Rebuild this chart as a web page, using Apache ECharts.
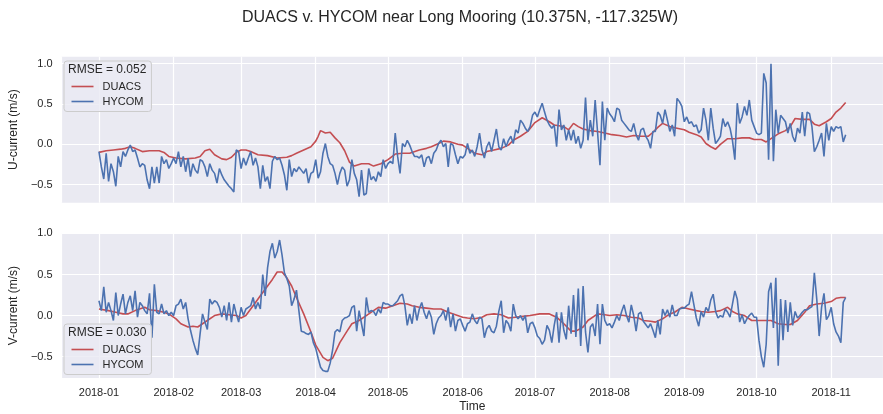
<!DOCTYPE html>
<html>
<head>
<meta charset="utf-8">
<script src="https://cdn.jsdelivr.net/npm/echarts@6/dist/echarts.min.js"></script>
<style>
    html, body { margin: 0; padding: 0; background: #fff; }
    #chart { width: 883px; height: 414px; }
</style>
</head>
<body>
<div id="chart"></div>
<script>
const chartTitle = 'DUACS v. HYCOM near Long Mooring (10.375N, -117.325W)';
const uRmse = 'RMSE = 0.052';
const vRmse = 'RMSE = 0.030';
const seriesNames = ['DUACS', 'HYCOM'];

// HYCOM, one value per day from 2018-01-01 to 2018-11-07
const uHycom = [
    -0.09, -0.28, -0.43, -0.11, -0.46, -0.24, -0.34, -0.52, -0.15, -0.28, -0.09, -0.15, -0.07, -0.01, -0.09, -0.07,
    -0.17, -0.28, -0.24, -0.26, -0.44, -0.55, -0.28, -0.48, -0.28, -0.48, -0.15, -0.24, -0.19, -0.3, -0.24,
    // feb
    -0.17, -0.24, -0.09, -0.28, -0.15, -0.34, -0.17, -0.4, -0.24, -0.32, -0.36, -0.19, -0.21, -0.28,
    -0.4, -0.24, -0.32, -0.36, -0.48, -0.3, -0.38, -0.44, -0.48, -0.52, -0.55, -0.59, -0.07, -0.09,
    // mar
    -0.3, -0.17, -0.26, -0.17, -0.09, -0.26, -0.17, -0.28, -0.55, -0.26, -0.46, -0.4, -0.55, -0.21, -0.15, -0.19,
    -0.17, -0.26, -0.38, -0.57, -0.19, -0.4, -0.3, -0.34, -0.28, -0.32, -0.36, -0.3, -0.48, -0.36, -0.34,
    // apr
    -0.19, -0.42, -0.34, -0.11, 0.01, -0.15, -0.24, -0.26, -0.36, -0.5, -0.36, -0.28, -0.32, -0.52, -0.44,
    -0.19, -0.36, -0.44, -0.65, -0.32, -0.63, -0.61, -0.3, -0.44, -0.4, -0.46, -0.34, -0.4, -0.19, -0.3,
    // may
    -0.24, -0.21, -0.24, 0.14, -0.15, -0.36, 0.01, -0.03, 0.05, -0.01, -0.09, -0.15, -0.15, -0.17, -0.13, -0.28,
    -0.17, -0.15, -0.24, -0.11, -0.07, 0.01, 0.05, -0.03, 0.01, -0.28, 0.01, -0.01, -0.13, -0.24, -0.15,
    // jun
    -0.17, -0.13, 0.01, -0.11, -0.07, -0.15, -0.03, 0.14, -0.07, -0.17, -0.03, 0.03, -0.09, 0.05, 0.19,
    -0.03, -0.07, 0.07, -0.03, 0.05, 0.1, 0.01, 0.18, 0.14, 0.3, 0.26, 0.2, 0.16, 0.22, 0.36,
    // jul
    0.4, 0.34, 0.43, 0.51, 0.4, 0.3, 0.24, 0.2, 0.24, -0.03, 0.43, 0.18, 0.24, 0.05, 0.18, 0.05,
    0.18, 0.01, 0.1, -0.05, 0.05, 0.58, 0.05, 0.3, 0.1, 0.55, 0.15, -0.26, 0.53, 0.05, 0.45,
    // aug
    0.38, 0.34, 0.28, 0.45, 0.43, 0.3, 0.26, 0.22, 0.18, 0.16, 0.26, 0.12, 0.05, 0.18, 0.2, 0.1,
    0.05, -0.05, 0.16, 0.16, 0.4, 0.36, 0.26, 0.43, 0.3, 0.16, 0.24, 0.1, 0.57, 0.53, 0.47,
    // sep
    0.28, 0.34, 0.26, 0.28, 0.22, 0.24, 0.14, 0.18, 0.45, 0.3, 0.05, 0.45, 0.2, 0.01, 0.05,
    0.1, 0.32, 0.22, 0.28, 0.2, 0.05, -0.19, 0.51, 0.26, 0.34, 0.47, 0.36, 0.55, 0.3, 0.22,
    // oct
    0.14, 0.12, 0.14, 0.88, 0.76, -0.19, 1.0, -0.21, 0.43, 0.14, 0.36, 0.32, 0.28, 0.14, 0.26, 0.1,
    0.03, 0.2, 0.14, 0.4, 0.1, 0.4, 0.38, 0.22, -0.09, -0.03, 0.05, 0.14, -0.15, 0.26, 0.05,
    // nov
    0.22, 0.16, 0.22, 0.2, 0.22, 0.03, 0.12
];

const vHycom = [
    0.18, 0.06, 0.35, 0.04, 0.16, 0.06, -0.06, 0.28, 0.0, 0.14, 0.26, 0.02, 0.16, 0.24, 0.06, 0.3,
    -0.02, 0.16, 0.12, 0.06, 0.02, 0.27, -0.27, 0.38, 0.04, 0.02, 0.14, 0.02, 0.06, 0.0, 0.04,
    // feb
    0.0, 0.12, 0.14, 0.2, 0.08, 0.16, -0.04, -0.18, -0.3, -0.4, -0.48, -0.22, 0.02, -0.08,
    -0.17, 0.2, 0.14, 0.18, 0.16, 0.1, -0.02, 0.12, -0.06, 0.16, -0.08, 0.14, 0.02, -0.08,
    // mar
    0.1, 0.0, 0.08, 0.1, 0.12, 0.22, 0.08, 0.16, 0.08, 0.5, 0.24, 0.58, 0.78, 0.88, 0.7, 0.78,
    0.92, 0.74, 0.52, 0.45, 0.36, 0.12, 0.2, 0.31, 0.06, -0.19, -0.2, -0.22, -0.23, -0.2, -0.33,
    // apr
    -0.4, -0.52, -0.63, -0.67, -0.68, -0.68, -0.58, -0.42, -0.2, -0.17, -0.2, -0.06, -0.03, -0.02, 0.0,
    0.1, 0.12, -0.19, 0.06, -0.1, -0.25, 0.22, 0.04, 0.06, 0.05, 0.0, 0.08, 0.03, 0.16, 0.14,
    // may
    0.14, 0.12, 0.12, 0.15, 0.18, 0.24, 0.26, 0.12, -0.12, 0.02, -0.1, 0.12, -0.06, 0.08, 0.16, 0.04,
    -0.04, 0.06, -0.02, -0.23, -0.1, -0.03, 0.0, 0.06, -0.06, 0.1, -0.14, 0.02, -0.19, -0.06, -0.04,
    // jun
    -0.12, -0.19, -0.1, -0.08, 0.02, -0.06, -0.1, -0.02, -0.04, -0.27, -0.16, -0.12, -0.19, -0.21, -0.13,
    0.05, 0.18, -0.21, -0.06, -0.1, -0.19, 0.14, 0.0, -0.04, 0.0, -0.06, 0.0, -0.21, -0.1, -0.08,
    // jul
    -0.15, -0.25, -0.28, -0.35, -0.3, -0.12, -0.18, -0.33, -0.12, 0.04, -0.33, 0.04, -0.18, -0.29, 0.12, -0.22,
    0.25, -0.26, 0.33, -0.37, 0.36, -0.2, -0.45, -0.14, -0.1, -0.25, 0.14, -0.35, 0.14, -0.06, -0.12,
    // aug
    -0.1, -0.15, -0.08, 0.0, -0.06, 0.05, 0.13, 0.0, -0.08, 0.13, 0.0, -0.19, 0.02, 0.04, -0.07, -0.11,
    -0.15, -0.1, -0.18, -0.27, -0.06, -0.23, 0.08, 0.0, 0.07, -0.02, 0.13, 0.0, 0.0, 0.08, 0.09,
    // sep
    0.09, 0.12, 0.14, 0.29, 0.13, -0.03, -0.13, 0.05, -0.02, 0.1, 0.05, 0.19, 0.26, 0.05, -0.03,
    0.0, -0.02, 0.08, 0.04, -0.02, 0.14, 0.3, 0.2, -0.08, 0.01, -0.1, -0.04, 0.0, 0.03, -0.02,
    // oct
    -0.02, -0.3, -0.5, -0.63, -0.35, 0.29, 0.4, -0.15, 0.46, -0.61, 0.2, -0.3, 0.19, -0.2, 0.16, -0.12,
    0.05, -0.03, 0.0, 0.04, 0.07, 0.07, 0.09, 0.11, 0.52, 0.2, -0.25, 0.1, 0.27, -0.05, 0.0,
    // nov
    0.1, -0.1, -0.2, -0.25, -0.33, 0.16, 0.22
];

// DUACS, read at the day offsets (days after 2018-01-01) below
const uDuacsDay = [0, 3, 6, 9, 11, 13, 15, 18, 21, 25, 27, 29, 32, 36, 40, 42, 44, 46, 48, 51, 53, 55, 57, 59, 61, 63,
    66, 70, 74, 78, 80, 82, 85, 88, 90, 91, 92, 94, 96, 98, 100, 102, 104, 106, 109, 112, 114, 117, 120, 123, 126,
    129, 133, 136, 138, 141, 143, 146, 149, 151, 153, 156, 159, 161, 164, 167, 170, 172, 175, 178, 181, 184, 187,
    189, 191, 193, 195, 197, 199, 201, 204, 207, 210, 213, 216, 219, 222, 225, 228, 230, 232, 234, 237, 240, 243,
    245, 248, 250, 252, 254, 256, 258, 261, 264, 267, 270, 272, 275, 277, 279, 282, 285, 287, 289, 292, 295, 297,
    299, 302, 304, 306, 308, 310];
const uDuacs = [-0.1, -0.08, -0.07, -0.06, -0.05, -0.03, -0.05, -0.09, -0.08, -0.08, -0.1, -0.15, -0.17, -0.18, -0.17,
    -0.15, -0.08, -0.06, -0.13, -0.18, -0.19, -0.16, -0.1, -0.07, -0.07, -0.09,
    -0.13, -0.14, -0.17, -0.16, -0.14, -0.11, -0.07, -0.03, 0.04, 0.1, 0.17, 0.14, 0.15, 0.08, 0.02, -0.08, -0.22,
    -0.27, -0.24, -0.24, -0.27, -0.24, -0.19, -0.12, -0.11,
    -0.11, -0.07, -0.05, -0.03, 0.01, 0.04, 0.03, 0.0, -0.01, -0.05, -0.11, -0.13, -0.09, -0.07, -0.05, -0.01, 0.05,
    0.1, 0.16, 0.27, 0.33, 0.28,
    0.24, 0.23, 0.22, 0.18, 0.26, 0.22, 0.19, 0.17, 0.16, 0.14, 0.12, 0.11, 0.09, 0.11, 0.1, 0.1, 0.15, 0.21, 0.26,
    0.22, 0.2, 0.18,
    0.15, 0.12, 0.09, 0.01, -0.03, -0.06, 0.0, 0.07, 0.07, 0.08, 0.08, 0.06, 0.06, 0.03, 0.07, 0.13, 0.17, 0.22,
    0.32, 0.31, 0.31, 0.25,
    0.23, 0.28, 0.32, 0.4, 0.45, 0.52];

const vDuacsDay = [0, 4, 7, 10, 12, 15, 19, 21, 24, 27, 29, 32, 34, 37, 39, 41, 43, 45, 48, 51, 54, 57, 59, 61, 63,
    65, 67, 70, 72, 74, 76, 78, 80, 82, 85, 88, 90, 93, 95, 97, 100, 103, 105, 108, 111, 114, 116, 119, 122, 125,
    128, 130, 133, 136, 139, 142, 145, 148, 151, 153, 156, 159, 161, 164, 167, 170, 173, 176, 179, 183, 187, 190,
    193, 196, 198, 201, 203, 207, 210, 212, 215, 218, 221, 224, 226, 229, 231, 234, 237, 239, 242, 245, 248, 250,
    253, 256, 258, 261, 263, 265, 268, 271, 274, 277, 279, 282, 285, 287, 290, 293, 295, 298, 301, 304, 306, 308, 310];
const vDuacs = [0.08, 0.06, 0.04, 0.02, 0.02, 0.06, 0.1, 0.07, 0.06, 0.04, 0.02, -0.04, -0.1, -0.14, -0.13, -0.14,
    -0.1, -0.06, 0.0, 0.02, 0.01, 0.0, -0.03, 0.0, 0.08,
    0.16, 0.24, 0.36, 0.44, 0.53, 0.53, 0.46, 0.36, 0.22, 0.02, -0.2, -0.36, -0.51, -0.55, -0.52, -0.33, -0.19, -0.1,
    -0.06, 0.0, 0.06, 0.1, 0.09, 0.12, 0.15,
    0.14, 0.12, 0.1, 0.09, 0.08, 0.08, 0.04, 0.01, -0.02, -0.03, -0.04, -0.02, 0.01, 0.02, 0.01, -0.03, -0.02, -0.01,
    0.0, 0.02, 0.02, -0.02,
    -0.1, -0.19, -0.19, -0.14, -0.06, 0.02, 0.01, 0.0, 0.01, 0.0, -0.02, -0.03, -0.06, -0.07, -0.08, -0.04, 0.02,
    0.04, 0.1, 0.08, 0.06, 0.05,
    0.04, 0.05, 0.06, 0.1, 0.05, 0.02, 0.0, -0.06, -0.06, -0.06, -0.06, -0.1, -0.11, -0.11, -0.06, 0.04, 0.12, 0.14,
    0.15, 0.17, 0.21, 0.22, 0.22];

const BLUE = '#4C72B0';
const RED = '#C44E52';
const INK = '#262626';
const FONT = 'Liberation Sans, Arial, sans-serif';

function dayTime(d) {
    return new Date(2018, 0, 1 + d).getTime();
}
function daily(values) {
    return values.map((v, i) => [dayTime(i), v]);
}
function byDay(days, values) {
    return days.map((d, i) => [dayTime(d), values[i]]);
}

const xMin = new Date(2017, 11, 16, 12).getTime();
const xMax = new Date(2018, 10, 22, 12).getTime();

function xAxis(gridIndex, showLabels) {
    return {
        type: 'time',
        gridIndex: gridIndex,
        min: xMin,
        max: xMax,
        minInterval: 28 * 86400000,
        maxInterval: 31 * 86400000,
        axisLine: {show: false},
        axisTick: {show: false},
        splitLine: {show: true, lineStyle: {color: '#ffffff', width: 1.2}},
        axisLabel: {
            show: showLabels,
            margin: 9,
            fontSize: 11,
            fontFamily: FONT,
            color: INK,
            hideOverlap: false,
            formatter: function (val) {
                const d = new Date(val);
                return d.getFullYear() + '-' + String(d.getMonth() + 1).padStart(2, '0');
            }
        },
        name: showLabels ? 'Time' : '',
        nameLocation: 'middle',
        nameGap: 23,
        nameTextStyle: {fontSize: 12, fontFamily: FONT, color: INK}
    };
}

function yAxis(gridIndex, name, min, max) {
    return {
        type: 'value',
        gridIndex: gridIndex,
        min: min,
        max: max,
        splitNumber: 4,
        minInterval: 0.5,
        maxInterval: 0.5,
        axisLine: {show: false},
        axisTick: {show: false},
        splitLine: {show: true, showMinLine: false, showMaxLine: false, lineStyle: {color: '#ffffff', width: 1.2}},
        axisLabel: {
            margin: 9,
            fontSize: 11,
            fontFamily: FONT,
            color: INK,
            showMinLabel: false,
            showMaxLabel: false,
            formatter: function (v) {
                return (v < 0 ? '\u2212' : '') + Math.abs(v).toFixed(1);
            }
        },
        name: name,
        nameLocation: 'middle',
        nameGap: 35,
        nameTextStyle: {fontSize: 12, fontFamily: FONT, color: INK}
    };
}

function line(name, data, color, idx, z) {
    return {
        name: name,
        type: 'line',
        xAxisIndex: idx,
        yAxisIndex: idx,
        data: data,
        symbol: 'none',
        z: z,
        lineStyle: {color: color, width: 1.6},
        itemStyle: {color: color}
    };
}

function legend(top) {
    return {
        data: seriesNames,
        orient: 'vertical',
        left: 64,
        top: top,
        padding: [18.5, 8, 3, 7.5],
        itemGap: 1,
        itemWidth: 22,
        itemHeight: 1.6,
        icon: 'rect',
        backgroundColor: 'rgba(234,234,242,0.8)',
        borderColor: '#cccccc',
        borderWidth: 1,
        borderRadius: 3,
        textStyle: {fontSize: 11, lineHeight: 14, padding: [0, 0, 0, 4], fontFamily: FONT, color: INK}
    };
}

const chart = echarts.init(document.getElementById('chart'));
chart.setOption({
    animation: false,
    backgroundColor: '#ffffff',
    title: [
        {text: chartTitle, left: 460, textAlign: 'center', top: 10, padding: 0,
            textStyle: {fontSize: 16, fontWeight: 'normal', fontFamily: FONT, color: INK}},
        {text: uRmse, left: 68, top: 64, padding: 0, z: 10,
            textStyle: {fontSize: 12, fontWeight: 'normal', fontFamily: FONT, color: INK}},
        {text: vRmse, left: 68, top: 326.6, padding: 0, z: 10,
            textStyle: {fontSize: 12, fontWeight: 'normal', fontFamily: FONT, color: INK}}
    ],
    legend: [legend(61), legend(324)],
    grid: [
        {left: 58.5, top: 56.7, width: 831.6, height: 146, show: true, backgroundColor: '#EAEAF2', borderWidth: 0},
        {left: 58.5, top: 233.3, width: 831.6, height: 146, show: true, backgroundColor: '#EAEAF2', borderWidth: 0}
    ],
    xAxis: [xAxis(0, false), xAxis(1, true)],
    yAxis: [yAxis(0, 'U-current (m/s)', -0.724, 1.087), yAxis(1, 'V-current (m/s)', -0.761, 1.002)],
    series: [
        line('DUACS', byDay(uDuacsDay, uDuacs), RED, 0, 2),
        line('HYCOM', daily(uHycom), BLUE, 0, 3),
        line('DUACS', byDay(vDuacsDay, vDuacs), RED, 1, 2),
        line('HYCOM', daily(vHycom), BLUE, 1, 3)
    ]
});
</script>
</body>
</html>
